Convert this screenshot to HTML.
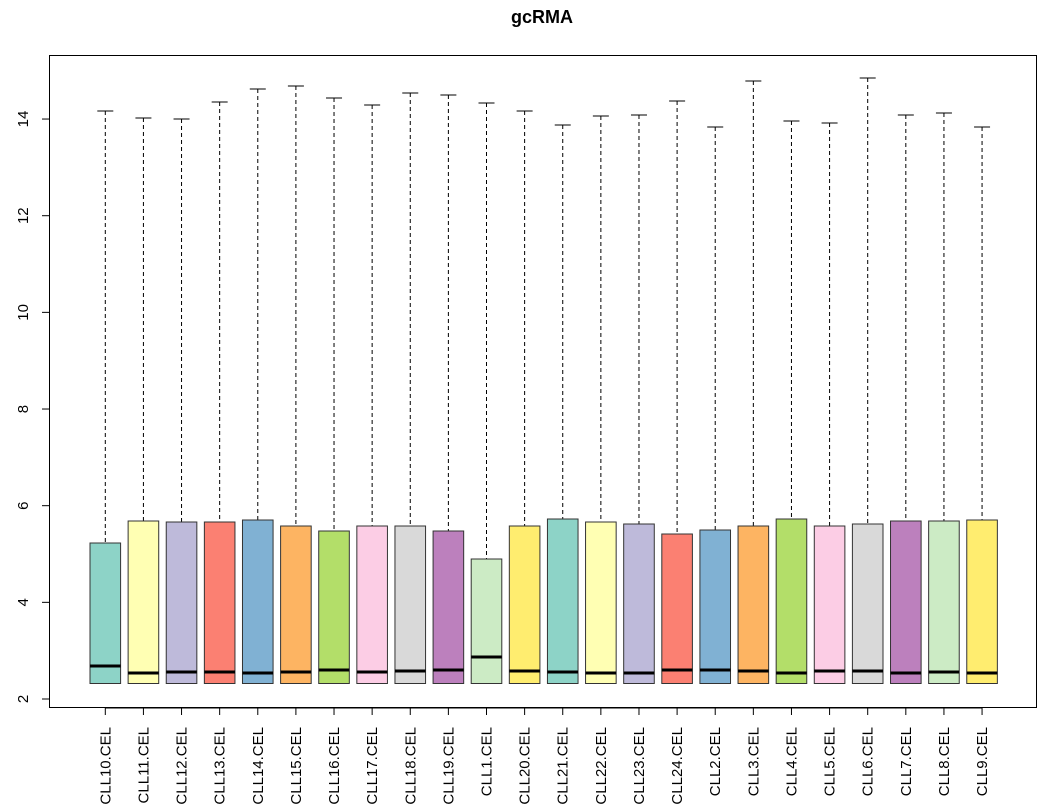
<!DOCTYPE html>
<html><head><style>body{margin:0;background:#fff}svg{display:block}</style></head><body>
<svg xmlns="http://www.w3.org/2000/svg" width="1052" height="804" viewBox="0 0 1052 804" font-family="Liberation Sans, sans-serif">
<rect width="1052" height="804" fill="#fff"/>
<text x="542" y="23" font-size="18" font-weight="bold" text-anchor="middle">gcRMA</text>
<rect x="49.5" y="55.5" width="987" height="652" fill="none" stroke="#000" stroke-width="1"/>
<script>
var ns="http://www.w3.org/2000/svg";
var svg=document.querySelector('svg');
function el(t,a,txt){var e=document.createElementNS(ns,t);for(var k in a)e.setAttribute(k,a[k]);if(txt)e.textContent=txt;svg.appendChild(e);return e;}
el('line',{x1:49.5,y1:119,x2:49.5,y2:699,stroke:'#000'});
for(var v=2;v<=14;v+=2){var y=699-(v-2)*48.33;
el('line',{x1:42,y1:y,x2:49.5,y2:y,stroke:'#000'});
el('text',{x:0,y:0,'font-size':15,'text-anchor':'middle',transform:'translate(28,'+y+') rotate(-90)'},String(v));}
var names=['CLL10','CLL11','CLL12','CLL13','CLL14','CLL15','CLL16','CLL17','CLL18','CLL19','CLL1','CLL20','CLL21','CLL22','CLL23','CLL24','CLL2','CLL3','CLL4','CLL5','CLL6','CLL7','CLL8','CLL9'];
var d=[[111,543,666],[118,521,673],[119,522,672],[102,522,672],[89,520,673],[86,526,672],[98,531,670],[105,526,672],[93,526,671],[95,531,670],[103,559,657],[111,526,671],[125,519,672],[116,522,673],[115,524,673],[101,534,670],[127,530,670],[81,526,671],[121,519,673],[123,526,671],[78,524,671],[115,521,673],[113,521,672],[127,520,673]];
var cols=['#8DD3C7','#FFFFB3','#BEBADA','#FB8072','#80B1D3','#FDB462','#B3DE69','#FCCDE5','#D9D9D9','#BC80BD','#CCEBC5','#FFED6F'];
el('line',{x1:105,y1:708,x2:982,y2:708,stroke:'#000'});
for(var i=0;i<24;i++){var cx=105.3+i*38.12,r=d[i];
el('line',{x1:cx,y1:r[0],x2:cx,y2:r[1],stroke:'#000','stroke-dasharray':'4,3'});
el('line',{x1:cx-8,y1:r[0],x2:cx+8,y2:r[0],stroke:'#000'});
el('rect',{x:cx-15.3,y:r[1],width:30.6,height:683.5-r[1],fill:cols[i%12],stroke:'#333','stroke-width':1});
el('line',{x1:cx-15.3,y1:r[2],x2:cx+15.3,y2:r[2],stroke:'#000','stroke-width':3});
el('line',{x1:cx,y1:708,x2:cx,y2:715,stroke:'#000'});
el('text',{x:0,y:0,'font-size':15,'text-anchor':'end',transform:'translate('+(cx+5)+',727) rotate(-90)'},names[i]+'.CEL');}
</script>
</svg>
</body></html>
